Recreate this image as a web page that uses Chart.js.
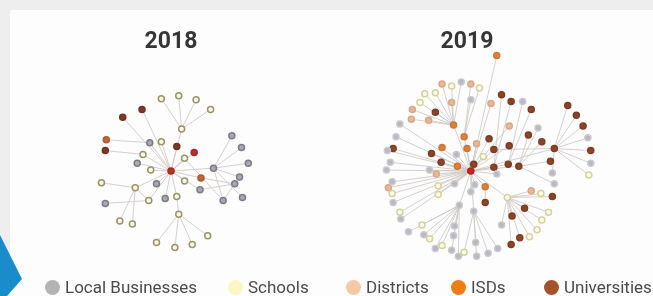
<!DOCTYPE html>
<html>
<head>
<meta charset="utf-8">
<script src="https://cdn.jsdelivr.net/npm/chart.js@4.4.1/dist/chart.umd.min.js"></script>
<style>
html, body { margin: 0; padding: 0; }
body { width: 653px; height: 296px; overflow: hidden; position: relative; background: #eeeeee; font-family: Roboto, sans-serif; }
#card { position: absolute; left: 10px; top: 10px; right: 0; bottom: 0; background: #fdfdfd; }
canvas { position: absolute; top: 0; }
#net2018 { left: 10px; }
#net2019 { left: 332px; }
#arrow { position: absolute; left: 0; top: 230px; width: 24px; height: 66px; background: #1a8bcb;
         clip-path: polygon(0 5px, 22px 49px, 7px 66px, 0 66px); }
.key { position: absolute; top: 277px; height: 20px; line-height: 20px; font-size: 17px; color: #4a4a4a; white-space: nowrap; }
.key i { position: absolute; left: 0; top: 2.5px; width: 15px; height: 15px; border-radius: 50%; }
.key span { margin-left: 20px; }
</style>
</head>
<body>
<div id="card"></div>
<canvas id="net2018" width="322" height="296"></canvas>
<canvas id="net2019" width="270" height="296"></canvas>
<div id="legend"></div>
<div id="arrow"></div>
<script>
const categories = ['Local Businesses', 'Schools', 'Districts', 'ISDs', 'Universities'];
const legendColors = ['#b3b3b3', '#fbf6c2', '#f7c8a8', '#f07d12', '#a3532b'];

// nodes: [x, y, category] relative to the central node; category 5 = the central node
const nodes2018 = [
  [0, 0, 5],
  [-10, 74, 1], [8, 77, 1], [26, 73, 1], [41, 63, 1],
  [-30, 63, 4], [-50, 55, 4], [11, 43, 1],
  [-67, 32, 3], [-68, 21, 4], [-22, 29, 0], [-10, 30, 1], [6, 25, 4], [24, 19, 5],
  [-29, 17, 1], [14, 13, 1], [-35, 8, 0], [-21, 1, 1],
  [63, 36, 0], [73, 24, 0], [80, 8, 0], [44, 3, 0], [31, -7, 3], [71, -6, 0], [66, -13, 0],
  [-72, -12, 1], [-37, -17, 1], [-15, -13, 0], [14, -10, 1], [30, -19, 0], [54, -30, 0], [74, -27, 0],
  [-68, -33, 0], [-23, -30, 1], [-6, -28, 0], [6, -26, 1], [8, -44, 1],
  [-53, -51, 1], [-40, -54, 1], [38, -66, 1], [-15, -73, 1], [4, -78, 1], [22, -75, 1]
];
const links2018 = [
  [7, 1], [7, 2], [7, 3], [7, 4], [7, 0], [5, 0], [6, 0], [8, 10], [10, 0], [9, 14], [14, 0], [11, 0], [12, 0], [13, 0],
  [15, 0], [16, 0], [17, 0], [21, 18], [21, 19], [21, 20], [21, 0], [21, 30], [21, 31], [23, 24], [24, 30], [22, 0],
  [22, 24], [29, 0], [29, 24], [15, 30], [26, 0], [26, 25], [26, 37], [26, 38], [26, 33], [32, 33], [33, 0], [34, 0],
  [27, 0], [35, 0], [36, 35], [36, 39], [36, 40], [36, 41], [36, 42], [28, 0], [23, 21]
];

const nodes2019 = [
  [0, 0, 5],
  [27, 118, 3], [-30, 89, 2], [-20, 87, 1], [-10, 91, 0], [0, 89, 2], [9, 85, 1],
  [-48, 79, 1], [-37, 80, 1], [-53, 70, 1], [-20, 70, 2], [0, 73, 0], [21, 69, 2],
  [32, 78, 4], [42, 71, 4], [54, 71, 0], [63, 63, 4],
  [-61, 63, 2], [-37, 60, 4], [-62, 53, 2], [-44, 52, 2], [-74, 48, 0], [-18, 47, 3],
  [40, 46, 2], [70, 44, 0],
  [101, 67, 4], [110, 57, 4], [117, 46, 4], [122, 34, 0], [125, 21, 4], [125, 8, 0], [123, -4, 1],
  [-78, 35, 0], [-7, 35, 3], [19, 33, 4], [60, 37, 4], [74, 30, 4], [87, 23, 4],
  [-87, 21, 0], [-81, 23, 4], [-30, 24, 3], [-4, 23, 3], [6, 28, 2], [24, 22, 4], [40, 26, 4],
  [-41, 18, 4], [-15, 17, 0], [13, 15, 1],
  [-84, 9, 0], [-31, 9, 4], [-14, 5, 3], [3, 7, 4], [24, 4, 4], [39, 7, 4], [50, 5, 4], [83, 10, 4],
  [-88, 1, 0], [-43, 1, 0], [-36, -3, 2], [27, -3, 0], [85, -2, 0],
  [-82, -11, 0], [-86, -17, 2], [-17, -13, 0], [4, -14, 0], [15, -16, 3], [87, -13, 0],
  [-82, -23, 1], [-34, -15, 1], [-34, -24, 1], [0, -21, 0], [63, -20, 2], [73, -23, 1], [85, -26, 4],
  [-81, -32, 0], [15, -32, 4], [38, -27, 1], [-12, -35, 0], [3, -41, 0],
  [56, -38, 4], [81, -42, 1], [-74, -42, 1], [-73, -49, 0], [43, -46, 4], [74, -50, 1],
  [-51, -55, 1], [-17, -56, 0], [32, -55, 0], [69, -60, 1],
  [-65, -62, 0], [-49, -65, 0], [-43, -69, 1], [-18, -66, 0], [51, -68, 4], [61, -67, 1], [42, -75, 4],
  [-37, -79, 0], [-30, -76, 1], [-20, -81, 0], [-7, -83, 1], [5, -73, 0],
  [-13, -87, 0], [6, -87, 0], [18, -84, 0], [28, -79, 0]
];
const links2019 = [
  [22, 2], [22, 3], [22, 4], [22, 7], [22, 8], [22, 9], [22, 10], [22, 17], [22, 18], [22, 19], [22, 20], [22, 0],
  [33, 5], [33, 6], [33, 11], [33, 0], [1, 0], [12, 0], [13, 52], [14, 52], [15, 53], [16, 53], [23, 0], [24, 54],
  [37, 25], [37, 26], [37, 27], [37, 28], [37, 29], [37, 30], [37, 31], [37, 0], [37, 43], [35, 54], [36, 54],
  [21, 0], [32, 0], [38, 0], [39, 0], [48, 0], [56, 0], [61, 0], [62, 0], [67, 0], [74, 0], [81, 0], [82, 0],
  [34, 0], [40, 0], [41, 0], [42, 0], [43, 0], [44, 0], [45, 0], [46, 0], [47, 0], [49, 0], [50, 0], [51, 0],
  [52, 0], [53, 0], [54, 0], [55, 54], [57, 0], [58, 0], [59, 0], [60, 37], [63, 0], [64, 0], [65, 0], [66, 54],
  [68, 0], [69, 0], [70, 0], [75, 65],
  [76, 71], [76, 72], [76, 73], [76, 79], [76, 80], [76, 83], [76, 84], [76, 88], [76, 93], [76, 94], [76, 95], [76, 87], [76, 0],
  [77, 85], [77, 86], [77, 89], [77, 90], [77, 91], [77, 92], [77, 96], [77, 97], [77, 98], [77, 101], [77, 0],
  [78, 99], [78, 100], [78, 102], [78, 103], [78, 104], [78, 0]
];

// node looks per year: [fill, outline]
const style2018 = [['#a9a9b1', '#7c7c86'], ['#f8f7ea', '#9a9466'], ['#eebf9e', '#cf9e7c'],
                   ['#bd6a3a', '#a85c32'], ['#7d3a26', '#6e3322'], ['#bb3028', '#a32822']];
const style2019 = [['#b8b8c0', '#c9c9cf'], ['#fbfbf0', '#d6d29a'], ['#e6b997', '#d9a885'],
                   ['#dd8038', '#cf7632'], ['#8b4527', '#7e3d22'], ['#c8281e', '#b0231a']];

function drawNetwork(id, year, nodes, links, style, xMin, xMax) {
  const edges = [];
  links.forEach(([a, b]) => {
    edges.push({x: nodes[a][0], y: nodes[a][1]}, {x: nodes[b][0], y: nodes[b][1]}, {x: null, y: null});
  });
  const groups = style.map((s, i) => ({
    label: categories[i] || 'Centre',
    data: nodes.filter(n => n[2] === i).map(n => ({x: n[0], y: n[1]})),
    backgroundColor: s[0],
    borderColor: s[1],
    borderWidth: 1.5,
    pointRadius: 3,
    clip: false,
    order: 1
  }));
  new Chart(document.getElementById(id), {
    type: 'scatter',
    data: {
      datasets: [{
        label: 'links',
        data: edges,
        showLine: true,
        spanGaps: false,
        pointRadius: 0,
        borderColor: 'rgba(204,200,198,0.85)',
        borderWidth: 1,
        clip: false,
        order: 2
      }, ...groups]
    },
    options: {
      responsive: false,
      animation: false,
      events: [],
      layout: { padding: 0 },
      plugins: {
        legend: { display: false },
        tooltip: { enabled: false },
        title: {
          display: true,
          text: year,
          color: '#363636',
          font: { family: 'Roboto', size: 23, weight: 'bold' },
          padding: { top: 28, bottom: 0 }
        }
      },
      scales: {
        x: { type: 'linear', min: xMin, max: xMax, display: false },
        y: { type: 'linear', min: -122, max: 118, display: false }
      }
    }
  });
}

drawNetwork('net2018', '2018', nodes2018, links2018, style2018, -161, 161);
drawNetwork('net2019', '2019', nodes2019, links2019, style2019, -139, 131);

// legend
const legendLeft = [45, 228, 346, 451, 544];
const legend = document.getElementById('legend');
categories.forEach((c, i) => {
  const item = document.createElement('div');
  item.className = 'key';
  item.style.left = legendLeft[i] + 'px';
  item.innerHTML = '<i style="background:' + legendColors[i] + '"></i><span>' + c + '</span>';
  legend.appendChild(item);
});
</script>
</body>
</html>
